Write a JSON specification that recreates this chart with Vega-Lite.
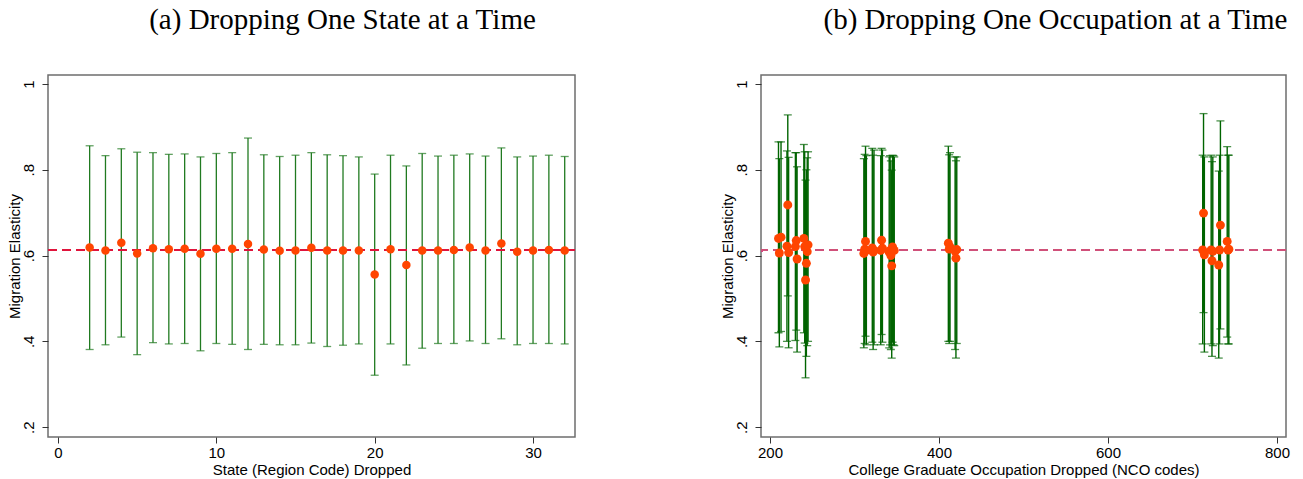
{
  "$schema": "https://vega.github.io/schema/vega-lite/v6.json",
  "background": "white",
  "padding": {"left": 6, "top": 5, "right": 0, "bottom": 0},
  "spacing": 142,
  "config": {
    "view": {"stroke": "#6e6e6e", "strokeWidth": 1.5},
    "axis": {"labelFont": "Liberation Sans", "titleFont": "Liberation Sans", "labelFontSize": 15, "titleFontSize": 15, "labelColor": "#000000", "titleColor": "#000000", "titleFontWeight": "normal", "grid": false, "domain": false, "tickColor": "#333333", "tickSize": 6},
    "title": {"font": "Liberation Serif", "fontSize": 29, "fontWeight": "normal", "color": "#000000", "offset": 40, "frame": "group", "anchor": "middle"}
  },
  "hconcat": [
    {
      "width": 527,
      "height": 362,
      "title": {"text": "(a) Dropping One State at a Time", "dx": 31},
      "data": {"values": [
        {"state": 2, "est": 0.619, "lo": 0.381, "hi": 0.856},
        {"state": 3, "est": 0.612, "lo": 0.392, "hi": 0.833},
        {"state": 4, "est": 0.630, "lo": 0.410, "hi": 0.849},
        {"state": 5, "est": 0.605, "lo": 0.369, "hi": 0.841},
        {"state": 6, "est": 0.617, "lo": 0.397, "hi": 0.840},
        {"state": 7, "est": 0.615, "lo": 0.394, "hi": 0.836},
        {"state": 8, "est": 0.616, "lo": 0.395, "hi": 0.837},
        {"state": 9, "est": 0.604, "lo": 0.378, "hi": 0.830},
        {"state": 10, "est": 0.616, "lo": 0.395, "hi": 0.838},
        {"state": 11, "est": 0.616, "lo": 0.393, "hi": 0.840},
        {"state": 12, "est": 0.627, "lo": 0.381, "hi": 0.874},
        {"state": 13, "est": 0.614, "lo": 0.393, "hi": 0.835},
        {"state": 14, "est": 0.611, "lo": 0.392, "hi": 0.831},
        {"state": 15, "est": 0.612, "lo": 0.392, "hi": 0.834},
        {"state": 16, "est": 0.618, "lo": 0.396, "hi": 0.840},
        {"state": 17, "est": 0.612, "lo": 0.388, "hi": 0.835},
        {"state": 18, "est": 0.612, "lo": 0.391, "hi": 0.833},
        {"state": 19, "est": 0.612, "lo": 0.394, "hi": 0.830},
        {"state": 20, "est": 0.556, "lo": 0.321, "hi": 0.790},
        {"state": 21, "est": 0.615, "lo": 0.394, "hi": 0.834},
        {"state": 22, "est": 0.578, "lo": 0.345, "hi": 0.809},
        {"state": 23, "est": 0.612, "lo": 0.384, "hi": 0.838},
        {"state": 24, "est": 0.612, "lo": 0.395, "hi": 0.832},
        {"state": 25, "est": 0.613, "lo": 0.395, "hi": 0.834},
        {"state": 26, "est": 0.619, "lo": 0.401, "hi": 0.837},
        {"state": 27, "est": 0.612, "lo": 0.395, "hi": 0.832},
        {"state": 28, "est": 0.628, "lo": 0.406, "hi": 0.851},
        {"state": 29, "est": 0.609, "lo": 0.392, "hi": 0.830},
        {"state": 30, "est": 0.612, "lo": 0.395, "hi": 0.832},
        {"state": 31, "est": 0.613, "lo": 0.395, "hi": 0.834},
        {"state": 32, "est": 0.612, "lo": 0.394, "hi": 0.831}
      ]},
      "layer": [
        {
          "mark": {"type": "rule", "color": "#217a21", "strokeWidth": 1.3},
          "encoding": {
            "x": {"field": "state", "type": "quantitative", "scale": {"domain": [-0.63, 32.65], "nice": false, "zero": false}, "axis": {"values": [0, 10, 20, 30], "title": "State (Region Code) Dropped", "labelPadding": 2, "titlePadding": 2}},
            "y": {"field": "lo", "type": "quantitative", "scale": {"domain": [0.177, 1.021], "nice": false, "zero": false}, "axis": {"values": [0.2, 0.4, 0.6, 0.8, 1], "labelExpr": "datum.value > 0.95 ? '1' : replace(format(datum.value, '.1f'), '0.', '.')", "labelAngle": 270, "labelAlign": "center", "labelBaseline": "bottom", "labelPadding": 6, "title": "Migration Elasticity", "titleX": -34, "titleBaseline": "middle"}},
            "y2": {"field": "hi"}
          }
        },
        {
          "mark": {"type": "tick", "orient": "horizontal", "size": 8, "thickness": 1.3, "color": "#217a21"},
          "encoding": {
            "x": {"field": "state", "type": "quantitative"},
            "y": {"field": "lo", "type": "quantitative"}
          }
        },
        {
          "mark": {"type": "tick", "orient": "horizontal", "size": 8, "thickness": 1.3, "color": "#217a21"},
          "encoding": {
            "x": {"field": "state", "type": "quantitative"},
            "y": {"field": "hi", "type": "quantitative"}
          }
        },
        {
          "mark": {"type": "rule", "color": "#e0143c", "strokeWidth": 1.3, "strokeDash": [9, 5]},
          "encoding": {"y": {"datum": 0.612}}
        },
        {
          "mark": {"type": "circle", "size": 72, "color": "#ff4500", "opacity": 1},
          "encoding": {
            "x": {"field": "state", "type": "quantitative"},
            "y": {"field": "est", "type": "quantitative"}
          }
        }
      ]
    },
    {
      "width": 525,
      "height": 362,
      "title": {"text": "(b) Dropping One Occupation at a Time", "dx": 32},
      "data": {"values": [
        {"nco": 210, "est": 0.640, "lo": 0.420, "hi": 0.865},
        {"nco": 211, "est": 0.606, "lo": 0.387, "hi": 0.826},
        {"nco": 213, "est": 0.643, "lo": 0.423, "hi": 0.865},
        {"nco": 220, "est": 0.622, "lo": 0.400, "hi": 0.844},
        {"nco": 221, "est": 0.718, "lo": 0.506, "hi": 0.928},
        {"nco": 222, "est": 0.607, "lo": 0.385, "hi": 0.829},
        {"nco": 230, "est": 0.621, "lo": 0.402, "hi": 0.840},
        {"nco": 231, "est": 0.635, "lo": 0.426, "hi": 0.840},
        {"nco": 232, "est": 0.592, "lo": 0.375, "hi": 0.807},
        {"nco": 240, "est": 0.640, "lo": 0.420, "hi": 0.859},
        {"nco": 241, "est": 0.621, "lo": 0.396, "hi": 0.842},
        {"nco": 242, "est": 0.543, "lo": 0.315, "hi": 0.776},
        {"nco": 243, "est": 0.582, "lo": 0.365, "hi": 0.800},
        {"nco": 244, "est": 0.609, "lo": 0.390, "hi": 0.828},
        {"nco": 245, "est": 0.625, "lo": 0.400, "hi": 0.842},
        {"nco": 311, "est": 0.605, "lo": 0.385, "hi": 0.826},
        {"nco": 312, "est": 0.615, "lo": 0.395, "hi": 0.836},
        {"nco": 313, "est": 0.633, "lo": 0.412, "hi": 0.855},
        {"nco": 314, "est": 0.612, "lo": 0.392, "hi": 0.833},
        {"nco": 321, "est": 0.618, "lo": 0.398, "hi": 0.850},
        {"nco": 322, "est": 0.608, "lo": 0.381, "hi": 0.834},
        {"nco": 323, "est": 0.612, "lo": 0.392, "hi": 0.846},
        {"nco": 331, "est": 0.612, "lo": 0.392, "hi": 0.833},
        {"nco": 332, "est": 0.636, "lo": 0.416, "hi": 0.850},
        {"nco": 333, "est": 0.617, "lo": 0.398, "hi": 0.846},
        {"nco": 341, "est": 0.608, "lo": 0.385, "hi": 0.830},
        {"nco": 342, "est": 0.612, "lo": 0.392, "hi": 0.833},
        {"nco": 343, "est": 0.600, "lo": 0.381, "hi": 0.821},
        {"nco": 344, "est": 0.576, "lo": 0.361, "hi": 0.799},
        {"nco": 345, "est": 0.620, "lo": 0.398, "hi": 0.834},
        {"nco": 346, "est": 0.613, "lo": 0.392, "hi": 0.833},
        {"nco": 347, "est": 0.612, "lo": 0.390, "hi": 0.830},
        {"nco": 411, "est": 0.629, "lo": 0.400, "hi": 0.855},
        {"nco": 412, "est": 0.615, "lo": 0.395, "hi": 0.835},
        {"nco": 413, "est": 0.620, "lo": 0.400, "hi": 0.840},
        {"nco": 419, "est": 0.610, "lo": 0.381, "hi": 0.830},
        {"nco": 420, "est": 0.594, "lo": 0.361, "hi": 0.821},
        {"nco": 421, "est": 0.614, "lo": 0.395, "hi": 0.830},
        {"nco": 712, "est": 0.613, "lo": 0.394, "hi": 0.834},
        {"nco": 713, "est": 0.699, "lo": 0.467, "hi": 0.931},
        {"nco": 714, "est": 0.602, "lo": 0.375, "hi": 0.830},
        {"nco": 722, "est": 0.613, "lo": 0.394, "hi": 0.834},
        {"nco": 723, "est": 0.588, "lo": 0.365, "hi": 0.819},
        {"nco": 724, "est": 0.610, "lo": 0.390, "hi": 0.830},
        {"nco": 731, "est": 0.578, "lo": 0.361, "hi": 0.797},
        {"nco": 732, "est": 0.613, "lo": 0.394, "hi": 0.834},
        {"nco": 733, "est": 0.671, "lo": 0.429, "hi": 0.914},
        {"nco": 741, "est": 0.633, "lo": 0.410, "hi": 0.854},
        {"nco": 742, "est": 0.613, "lo": 0.394, "hi": 0.834},
        {"nco": 743, "est": 0.615, "lo": 0.394, "hi": 0.834}
      ]},
      "layer": [
        {
          "mark": {"type": "rule", "color": "#006400", "strokeWidth": 1.4},
          "encoding": {
            "x": {"field": "nco", "type": "quantitative", "scale": {"domain": [189.3, 810.6], "nice": false, "zero": false}, "axis": {"values": [200, 400, 600, 800], "title": "College Graduate Occupation Dropped (NCO codes)", "labelPadding": 2, "titlePadding": 2}},
            "y": {"field": "lo", "type": "quantitative", "scale": {"domain": [0.177, 1.021], "nice": false, "zero": false}, "axis": {"values": [0.2, 0.4, 0.6, 0.8, 1], "labelExpr": "datum.value > 0.95 ? '1' : replace(format(datum.value, '.1f'), '0.', '.')", "labelAngle": 270, "labelAlign": "center", "labelBaseline": "bottom", "labelPadding": 6, "title": "Migration Elasticity", "titleX": -34, "titleBaseline": "middle"}},
            "y2": {"field": "hi"}
          }
        },
        {
          "mark": {"type": "tick", "orient": "horizontal", "size": 8, "thickness": 1.3, "color": "#006400"},
          "encoding": {
            "x": {"field": "nco", "type": "quantitative"},
            "y": {"field": "lo", "type": "quantitative"}
          }
        },
        {
          "mark": {"type": "tick", "orient": "horizontal", "size": 8, "thickness": 1.3, "color": "#006400"},
          "encoding": {
            "x": {"field": "nco", "type": "quantitative"},
            "y": {"field": "hi", "type": "quantitative"}
          }
        },
        {
          "mark": {"type": "rule", "color": "#d0507a", "strokeWidth": 1.3, "strokeDash": [9, 5]},
          "encoding": {"y": {"datum": 0.612}}
        },
        {
          "mark": {"type": "circle", "size": 80, "color": "#ff4500", "opacity": 1},
          "encoding": {
            "x": {"field": "nco", "type": "quantitative"},
            "y": {"field": "est", "type": "quantitative"}
          }
        }
      ]
    }
  ]
}
